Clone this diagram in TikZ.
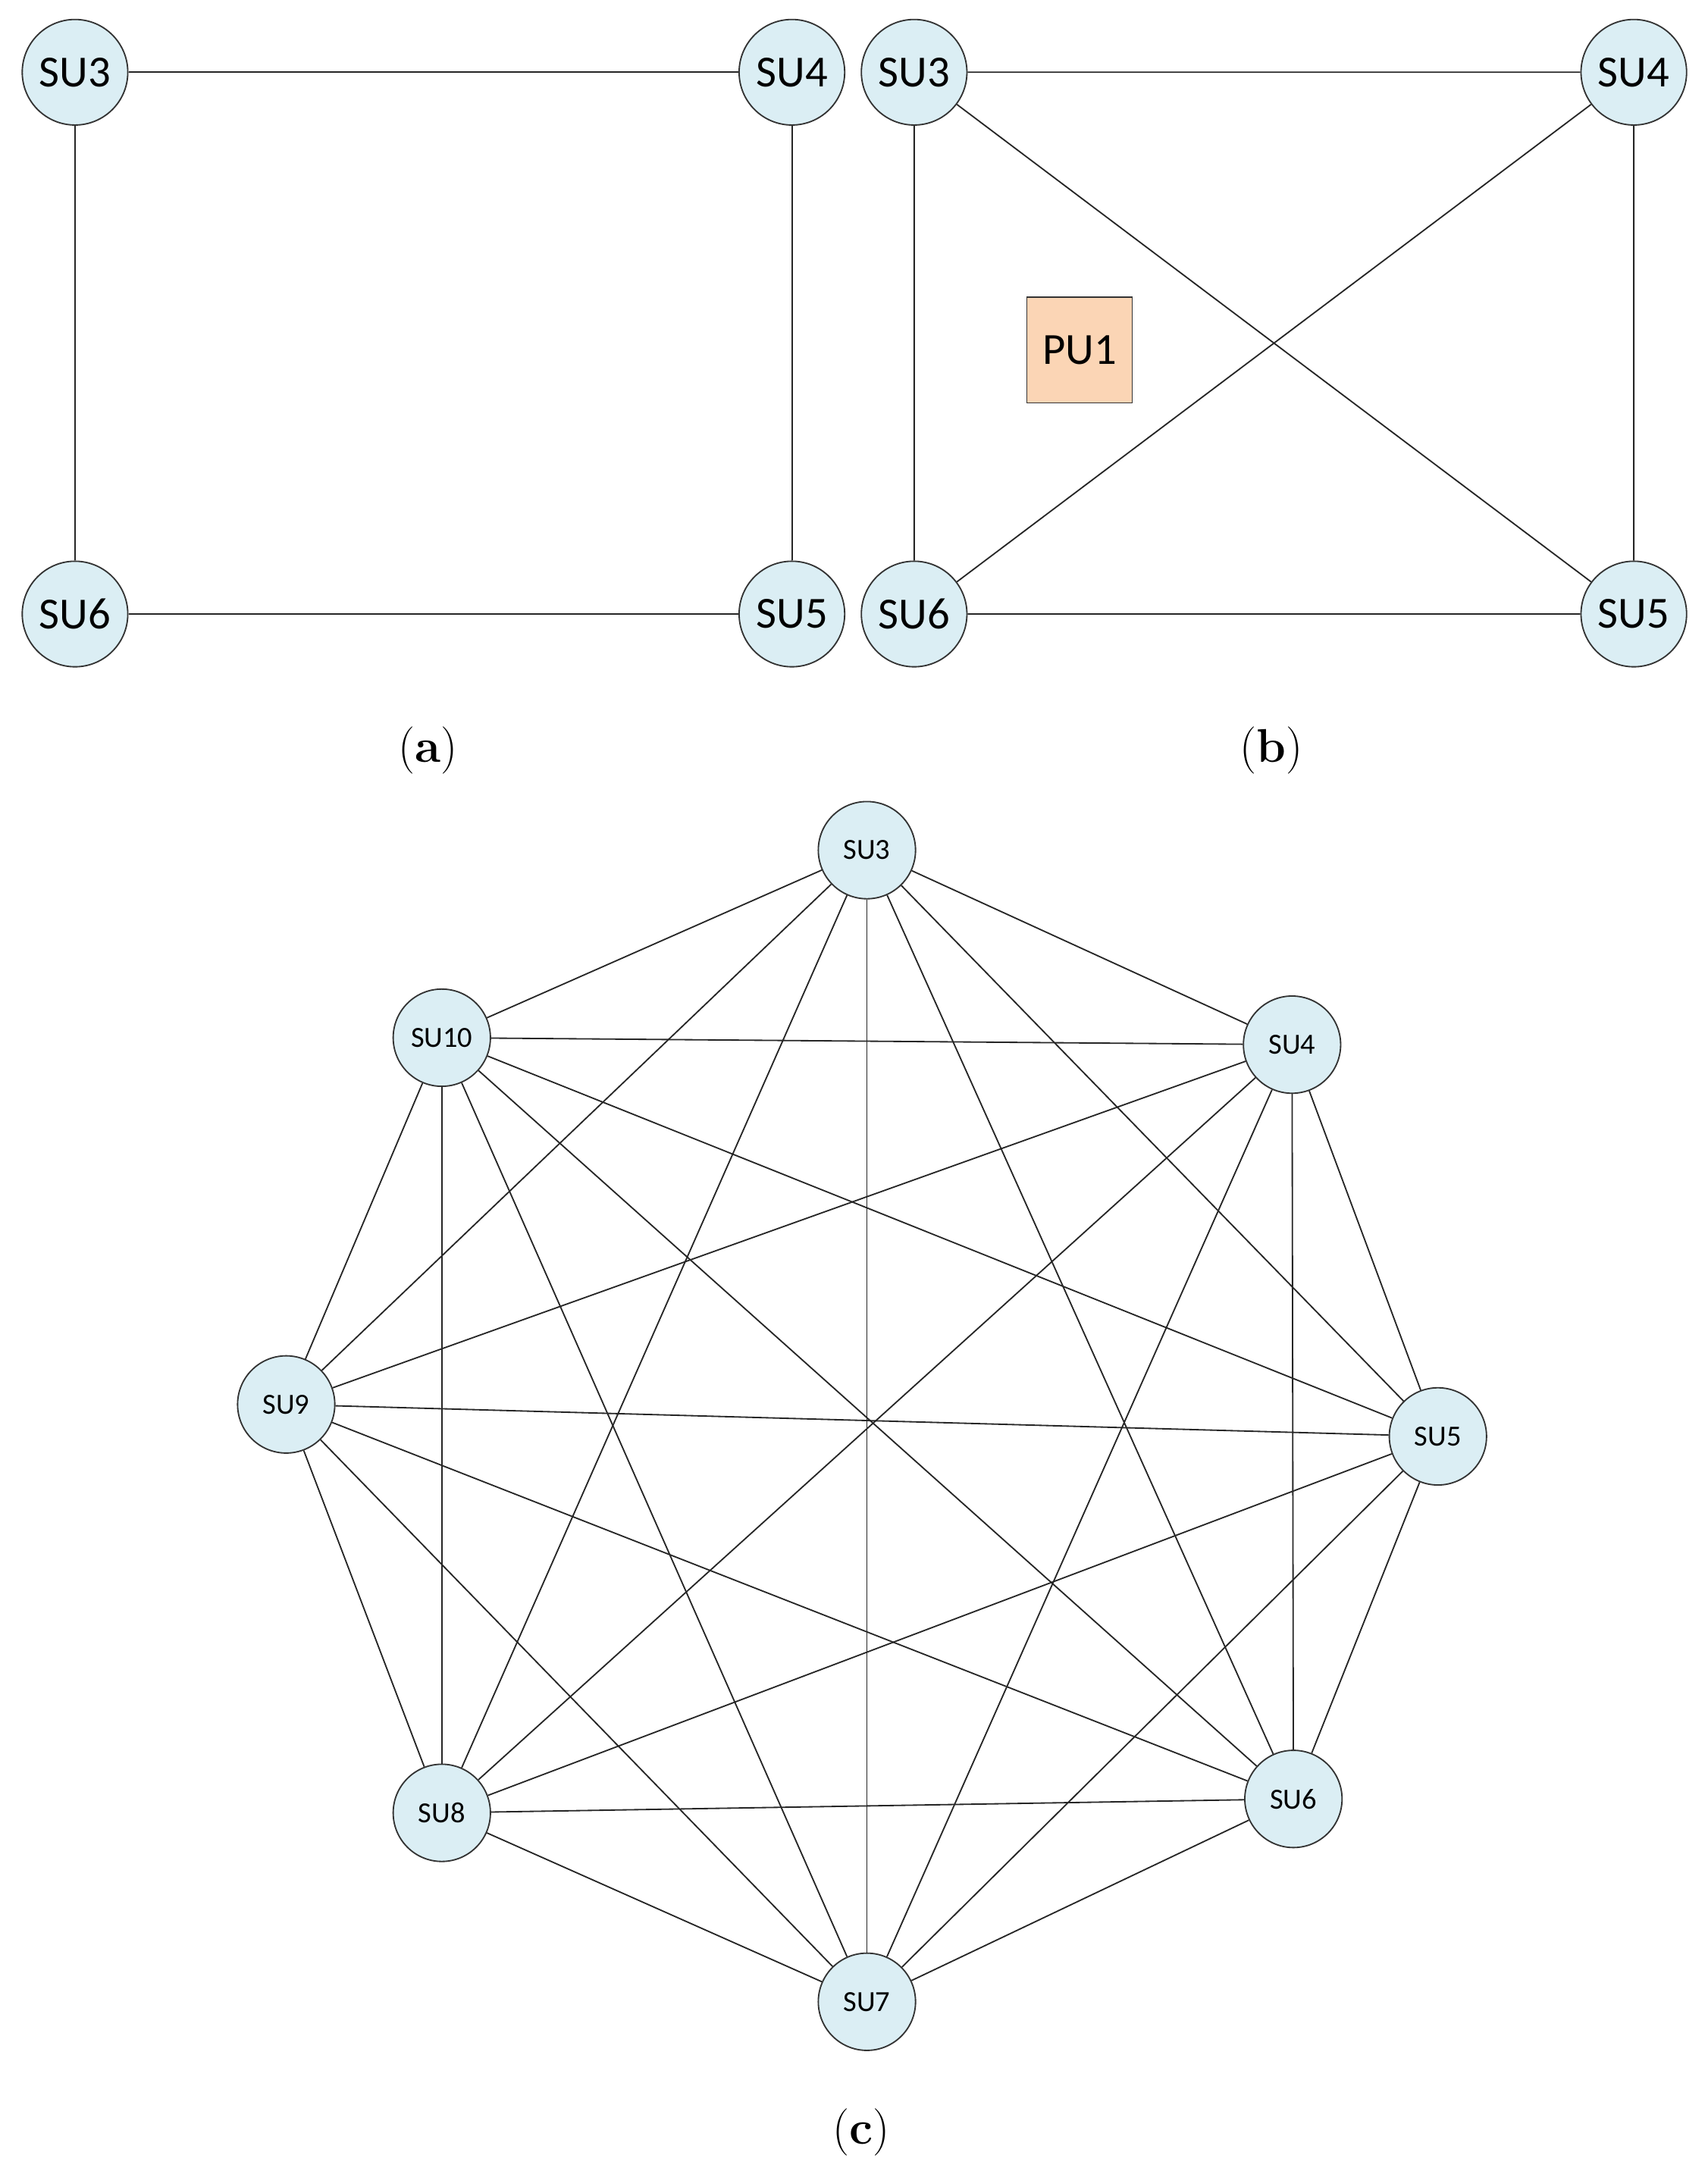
\documentclass[tikz,border=0pt]{standalone}
\usepackage{fontspec}
\newfontfamily\carl{Carlito}
\definecolor{nodeblue}{RGB}{219,238,244}
\definecolor{puorange}{RGB}{251,213,181}
\begin{document}
\begin{tikzpicture}[x=0.5pt,y=-0.5pt,
  su/.style={circle,draw=black!80,fill=nodeblue,inner sep=0pt,font=\carl\fontsize{16}{18}\selectfont,line width=0.5pt},
  sua/.style={su,minimum size=38pt},
  suc/.style={su,minimum size=35pt,font=\carl\fontsize{10.5}{12}\selectfont},
  edge/.style={draw=black!85,line width=0.5pt},
  sublabel/.style={font=\fontsize{17}{20}\selectfont}]
\useasboundingbox (0,0) rectangle (1229,1565);
% (a)
\node[sua] (a3) at (54,52) {SU3};
\node[sua] (a4) at (570,52) {SU4};
\node[sua] (a6) at (54,442) {SU6};
\node[sua] (a5) at (570,442) {SU5};
\draw[edge] (a3)--(a4) (a4)--(a5) (a5)--(a6) (a6)--(a3);
\node[sublabel] (la) at (308,540) {(\textbf{a})};
% (b)
\node[sua] (b3) at (658,52) {SU3};
\node[sua] (b4) at (1176,52) {SU4};
\node[sua] (b6) at (658,442) {SU6};
\node[sua] (b5) at (1176,442) {SU5};
\node[draw=black!80,fill=puorange,minimum size=38pt,inner sep=0pt,font=\carl\fontsize{16}{18}\selectfont] (pu) at (777,252) {PU1};
\draw[edge] (b3)--(b4) (b4)--(b5) (b5)--(b6) (b6)--(b3) (b3)--(b5) (b4)--(b6);
\node[sublabel] (lb) at (915,540) {(\textbf{b})};
% (c)
\node[suc] (c3) at (624,612) {SU3};
\node[suc] (c4) at (930,752) {SU4};
\node[suc] (c5) at (1035,1034) {SU5};
\node[suc] (c6) at (931,1295) {SU6};
\node[suc] (c7) at (624,1441) {SU7};
\node[suc] (c8) at (318,1305) {SU8};
\node[suc] (c9) at (206,1011) {SU9};
\node[suc] (c10) at (318,747) {SU10};
\foreach \i/\j in {3/4,3/5,3/6,3/7,3/8,3/9,3/10,4/5,4/6,4/7,4/8,4/9,4/10,5/6,5/7,5/8,5/9,5/10,6/7,6/8,6/9,6/10,7/8,7/9,7/10,8/9,8/10,9/10}
  \draw[edge] (c\i)--(c\j);
\node[sublabel] (lc) at (620,1535) {(\textbf{c})};
\end{tikzpicture}
\end{document}
